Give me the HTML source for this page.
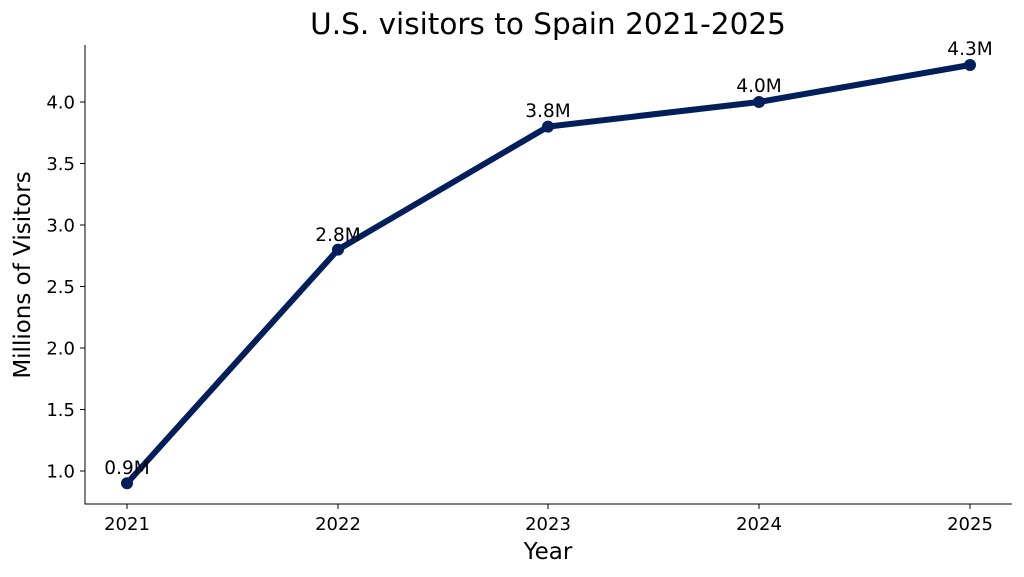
<!DOCTYPE html>
<html><head><meta charset="utf-8"><style>body{margin:0;background:#fff}svg{display:block}text{font-family:"DejaVu Sans","Liberation Sans",sans-serif;fill:#000}</style></head>
<body>
<svg width="1024" height="577" xmlns="http://www.w3.org/2000/svg">
<text x="548" y="34" font-size="29.5" text-anchor="middle">U.S. visitors to Spain 2021-2025</text>
<line x1="85" y1="45" x2="85" y2="504.5" stroke="#000" stroke-width="1"/>
<line x1="84.5" y1="504" x2="1012" y2="504" stroke="#000" stroke-width="1"/>
<g stroke="#000" stroke-width="1">
<line x1="80" y1="471" x2="85" y2="471"/><line x1="80" y1="409.5" x2="85" y2="409.5"/><line x1="80" y1="348" x2="85" y2="348"/><line x1="80" y1="286.5" x2="85" y2="286.5"/><line x1="80" y1="225" x2="85" y2="225"/><line x1="80" y1="163.5" x2="85" y2="163.5"/><line x1="80" y1="102" x2="85" y2="102"/>
<line x1="127" y1="504" x2="127" y2="509"/><line x1="338" y1="504" x2="338" y2="509"/><line x1="548" y1="504" x2="548" y2="509"/><line x1="759" y1="504" x2="759" y2="509"/><line x1="970" y1="504" x2="970" y2="509"/>
</g>
<g font-size="18" text-anchor="end">
<text x="75" y="477.5">1.0</text><text x="75" y="416">1.5</text><text x="75" y="354.5">2.0</text><text x="75" y="293">2.5</text><text x="75" y="231.5">3.0</text><text x="75" y="170">3.5</text><text x="75" y="108.5">4.0</text>
</g>
<g font-size="18" text-anchor="middle">
<text x="127" y="530">2021</text><text x="338" y="530">2022</text><text x="548" y="530">2023</text><text x="759" y="530">2024</text><text x="970" y="530">2025</text>
</g>
<text x="548" y="559" font-size="23" text-anchor="middle">Year</text>
<text transform="translate(30,275) rotate(-90)" font-size="23" text-anchor="middle">Millions of Visitors</text>
<polyline points="127,483.3 338,249.6 548,126.6 759,102 970,65" fill="none" stroke="#021f5c" stroke-width="6" stroke-linejoin="round"/>
<g fill="#021f5c"><circle cx="127" cy="483.3" r="6"/><circle cx="338" cy="249.6" r="6"/><circle cx="548" cy="126.6" r="6"/><circle cx="759" cy="102" r="6"/><circle cx="970" cy="65" r="6"/></g>
<g font-size="18.5" text-anchor="middle">
<text x="127" y="474">0.9M</text><text x="338" y="241">2.8M</text><text x="548" y="117">3.8M</text><text x="759" y="92">4.0M</text><text x="970" y="55">4.3M</text>
</g>
</svg>
</body></html>
